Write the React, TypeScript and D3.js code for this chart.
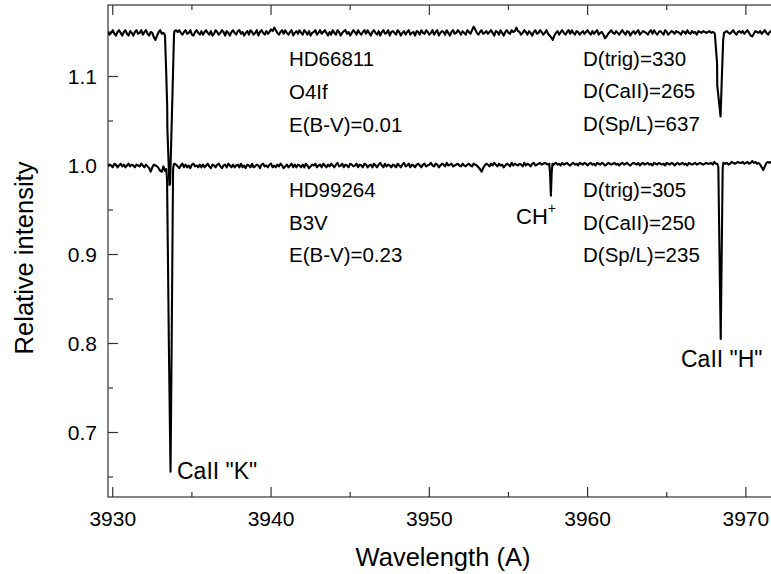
import React from "react";
import * as d3 from "d3";

// ---------- data ----------
const WL_START = 3929.7;
const WL_STEP = 0.1;
const TOP_OFFSET = 0.15;
const TOP_BASE = 0.999;
const BOT_BASE = 1.0;

// continuum noise (units of 0.001), 0.1 A grid from 3929.7
const topNoise = [
  1,-2,0,3,-1,-3,1,3,0,-3,1,3,-1,-3,2,0,-3,1,3,-1,
  0,3,-2,1,3,-1,-3,1,0,-5,-8,-3,1,3,-1,0,0,0,0,0,
  0,0,2,3,1,3,0,-2,1,3,-1,0,3,-2,-3,1,3,0,-2,2,
  -2,1,3,0,-2,2,-3,-1,3,1,-2,0,3,1,-3,2,0,-3,1,3,
  0,-2,2,3,-1,1,-3,0,2,-2,3,1,-2,0,3,-3,1,3,0,-2,
  2,-1,1,4,2,6,3,0,-2,1,3,-1,3,0,-2,1,3,-3,0,2,
  -1,3,0,-2,3,1,-2,2,-3,0,1,3,-2,0,3,-1,1,3,0,-3,
  1,-2,3,0,-2,3,1,-3,0,2,3,-1,1,-3,0,3,1,-2,3,0,
  -2,1,3,-1,3,0,-3,1,3,0,-2,2,-3,1,3,-1,0,3,-3,1,
  2,0,-2,3,1,-3,0,2,-2,1,3,-2,0,1,-3,2,1,-2,3,0,
  -1,3,1,-2,0,3,-2,1,3,-3,0,2,1,-2,3,0,-3,1,3,-1,
  0,3,1,-2,2,0,-2,3,1,-1,3,7,4,0,-2,1,3,-1,0,2,
  -1,1,3,0,-3,2,1,-2,3,0,-3,1,3,0,-1,3,1,2,6,2,
  1,-2,0,3,1,-2,2,0,-3,1,3,-1,0,3,1,-2,0,3,-1,-3,
  -5,-8,-3,0,2,-2,1,3,0,-2,1,3,-1,3,0,-2,2,1,-2,0,
  2,-1,1,3,0,-2,2,-1,1,3,-2,0,1,-2,-6,-4,-1,1,3,0,
  -1,2,0,-2,1,3,0,-2,2,1,-3,0,2,-1,1,3,-2,0,2,1,
  0,-2,1,3,-1,3,0,-2,1,2,0,-2,3,1,-2,0,2,1,-1,2,
  1,0,-2,2,1,-1,3,0,-1,2,0,1,-2,2,1,0,2,1,0,1,
  2,0,1,0,0,0,0,0,0,0,1,2,0,-1,1,3,0,-2,1,2,
  0,2,-1,1,3,0,-3,-4,-1,2,1,0,2,-1,1,3,0,-2,1,2,
  0,1,2,-1,
];

const botNoise = [
  -1,1,0,-2,2,1,-2,0,2,-1,1,-2,0,2,-1,1,0,-2,1,0,
  -1,2,0,-2,1,-1,-3,-7,-2,1,0,-1,-3,-6,-7,-1,-6,0,0,0,
  0,0,2,1,-1,-3,0,2,-2,1,-2,0,-3,1,2,-1,0,-2,1,-2,
  1,-2,0,2,-1,-3,1,0,-2,1,2,-1,-3,0,1,-2,2,0,-2,1,
  -2,0,1,-2,2,-2,0,-3,1,0,-2,2,-2,-1,1,0,-3,1,2,-1,
  0,-2,1,2,-2,0,-2,1,-1,2,0,-3,-1,1,-2,0,2,-2,1,-2,
  1,0,-2,1,-2,2,0,-3,-1,1,0,2,-2,0,1,-2,2,0,-2,1,
  -1,2,0,-2,1,3,-1,0,2,-2,1,0,-2,2,1,-1,0,2,-2,1,
  0,-2,2,1,-2,0,1,-2,2,0,-2,1,3,0,-2,2,-1,1,0,-2,
  1,0,-2,2,0,-2,1,3,-1,0,2,-2,1,0,-2,1,2,0,-2,1,
  2,-1,0,1,3,0,-1,2,1,-2,0,2,1,-1,3,0,1,2,-1,0,
  1,2,0,-1,2,0,-1,1,2,0,-1,2,1,0,-2,-4,-7,-3,0,2,
  1,-1,2,0,3,1,-1,2,0,1,-2,0,2,1,-1,3,0,2,1,0,
  2,1,-1,3,0,2,1,-1,2,3,0,1,2,3,1,2,3,2,1,0,
  0,0,2,3,1,2,0,3,1,2,3,1,0,2,3,1,2,0,3,2,
  1,3,2,0,2,3,1,2,0,3,2,1,3,2,0,1,3,2,1,2,
  3,1,2,0,2,3,1,2,3,1,0,2,3,2,1,3,0,2,3,1,
  2,3,1,2,0,3,2,1,3,2,1,2,0,3,2,1,3,2,0,2,
  3,1,2,3,1,2,0,3,2,1,2,3,1,2,3,2,1,2,3,2,
  2,3,1,4,2,0,0,0,0,3,2,3,1,2,4,3,2,3,4,3,
  3,4,2,3,4,2,3,5,3,4,2,3,1,-2,-5,-1,3,4,3,4,
  3,4,2,3,
];

// absorption line profiles [wavelength, relative intensity]
const topK: [number, number][] = [
  [3933.26, 0.998], [3933.3, 0.996], [3933.38, 0.953], [3933.44, 0.916],
  [3933.45, 0.892], [3933.52, 0.857], [3933.58, 0.828], [3933.62, 0.829],
  [3933.7, 0.881], [3933.78, 0.935], [3933.87, 0.997],
];
const topH: [number, number][] = [
  [3968.0, 0.999], [3968.04, 0.998], [3968.11, 0.981], [3968.18, 0.965],
  [3968.19, 0.94], [3968.3, 0.922], [3968.4, 0.905], [3968.48, 0.948],
  [3968.565, 0.991], [3968.62, 0.999],
];
const botK: [number, number][] = [
  [3933.38, 0.996], [3933.43, 0.985], [3933.49, 0.891], [3933.55, 0.793],
  [3933.62, 0.695], [3933.65, 0.656], [3933.68, 0.714], [3933.75, 0.86],
  [3933.81, 0.995], [3933.85, 1.001],
];
const botCH: [number, number][] = [
  [3957.58, 1.002], [3957.63, 0.99], [3957.68, 0.966], [3957.73, 0.992], [3957.78, 1.002],
];
const botH: [number, number][] = [
  [3968.2, 1.002], [3968.26, 0.998], [3968.33, 0.905], [3968.41, 0.805],
  [3968.47, 0.898], [3968.535, 0.998], [3968.58, 1.003],
];

const xMajorTicks = [3930, 3940, 3950, 3960, 3970];
const xMinorTicks = [3935, 3945, 3955, 3965];
const yMajorTicks = [0.7, 0.8, 0.9, 1.0, 1.1];
const yMinorTicks = [0.65, 0.75, 0.85, 0.95, 1.05, 1.15];

const topLabels = ["HD66811", "O4If", "E(B-V)=0.01"];
const topDist = ["D(trig)=330", "D(CaII)=265", "D(Sp/L)=637"];
const botLabels = ["HD99264", "B3V", "E(B-V)=0.23"];
const botDist = ["D(trig)=305", "D(CaII)=250", "D(Sp/L)=235"];

// ---------- helpers ----------
function buildSeries(noise: number[], base: number, lines: [number, number][][], offset: number) {
  const pts: [number, number][] = [];
  noise.forEach((n, i) => {
    const w = +(WL_START + i * WL_STEP).toFixed(3);
    const inLine = lines.some((l) => w >= l[0][0] && w <= l[l.length - 1][0]);
    if (!inLine) pts.push([w, base + n / 1000 + offset]);
  });
  lines.forEach((l) => l.forEach((p) => pts.push([p[0], p[1] + offset])));
  pts.sort((a, b) => a[0] - b[0]);
  return pts;
}

const W = 771;
const H = 574;
const L = 108, R = 772, T = 5, B = 497;
const FONT = "'Liberation Sans', Arial, Helvetica, sans-serif";

export default function App() {
  const x = d3.scaleLinear().domain([3929.7, 3971.65]).range([L, R]);
  const y = d3.scaleLinear().domain([0.62753, 1.18034]).range([B, T]);
  const line = d3
    .line<[number, number]>()
    .x((d) => x(d[0]))
    .y((d) => y(d[1]));

  const topSeries = buildSeries(topNoise, TOP_BASE, [topK, topH], TOP_OFFSET);
  const botSeries = buildSeries(botNoise, BOT_BASE, [botK, botCH, botH], 0);

  const axisColor = "#333";
  const textStyle = { fontFamily: FONT, fill: "#000" } as const;

  return (
    <svg
      width={W}
      height={H}
      style={{ position: "absolute", left: 0, top: 0, background: "#fff" }}
    >
      <defs>
        <clipPath id="plot">
          <rect x={L} y={T} width={R - L} height={B - T} />
        </clipPath>
      </defs>
      <rect x={0} y={0} width={W} height={H} fill="#fff" />

      {/* frame */}
      <rect x={L} y={T} width={R - L} height={B - T} fill="none" stroke={axisColor} strokeWidth={1.2} />

      {/* x ticks bottom and top */}
      {xMajorTicks.map((t) => (
        <g key={"xM" + t}>
          <line x1={x(t)} x2={x(t)} y1={B} y2={B - 10} stroke={axisColor} strokeWidth={1.2} />
          <line x1={x(t)} x2={x(t)} y1={T} y2={T + 10} stroke={axisColor} strokeWidth={1.2} />
          <text x={x(t)} y={526} textAnchor="middle" fontSize={21} style={textStyle}>
            {t}
          </text>
        </g>
      ))}
      {xMinorTicks.map((t) => (
        <g key={"xm" + t}>
          <line x1={x(t)} x2={x(t)} y1={B} y2={B - 5} stroke={axisColor} strokeWidth={1.2} />
          <line x1={x(t)} x2={x(t)} y1={T} y2={T + 5} stroke={axisColor} strokeWidth={1.2} />
        </g>
      ))}

      {/* y ticks */}
      {yMajorTicks.map((t) => (
        <g key={"yM" + t}>
          <line x1={L} x2={L + 10} y1={y(t)} y2={y(t)} stroke={axisColor} strokeWidth={1.2} />
          <text x={97} y={y(t) + 7.5} textAnchor="end" fontSize={21} style={textStyle}>
            {t.toFixed(1)}
          </text>
        </g>
      ))}
      {yMinorTicks.map((t) => (
        <line key={"ym" + t} x1={L} x2={L + 5} y1={y(t)} y2={y(t)} stroke={axisColor} strokeWidth={1.2} />
      ))}

      {/* spectra */}
      <g clipPath="url(#plot)">
        <path d={line(topSeries) || ""} fill="none" stroke="#000" strokeWidth={2.1} strokeLinejoin="round" />
        <path d={line(botSeries) || ""} fill="none" stroke="#000" strokeWidth={2.1} strokeLinejoin="round" />
      </g>

      {/* annotations */}
      {topLabels.map((s, i) => (
        <text key={"tl" + i} x={289} y={66 + i * 33} fontSize={20.5} style={textStyle}>
          {s}
        </text>
      ))}
      {topDist.map((s, i) => (
        <text key={"td" + i} x={583} y={65.5 + i * 32.5} fontSize={20.5} style={textStyle}>
          {s}
        </text>
      ))}
      {botLabels.map((s, i) => (
        <text key={"bl" + i} x={289} y={197 + i * 32.5} fontSize={20.5} style={textStyle}>
          {s}
        </text>
      ))}
      {botDist.map((s, i) => (
        <text key={"bd" + i} x={583} y={197 + i * 32.5} fontSize={20.5} style={textStyle}>
          {s}
        </text>
      ))}

      <text x={516} y={224} fontSize={22} style={textStyle}>
        CH
        <tspan fontSize={14} dy={-11}>+</tspan>
      </text>
      <text x={681} y={367} fontSize={23} style={textStyle}>
        CaII "H"
      </text>
      <text x={177} y={479} fontSize={23} style={textStyle}>
        CaII "K"
      </text>

      {/* axis titles */}
      <text x={443} y={566} textAnchor="middle" fontSize={25.5} style={textStyle}>
        Wavelength (A)
      </text>
      <text
        transform={`translate(33, 258) rotate(-90)`}
        textAnchor="middle"
        fontSize={25.5}
        style={textStyle}
      >
        Relative intensity
      </text>
    </svg>
  );
}
